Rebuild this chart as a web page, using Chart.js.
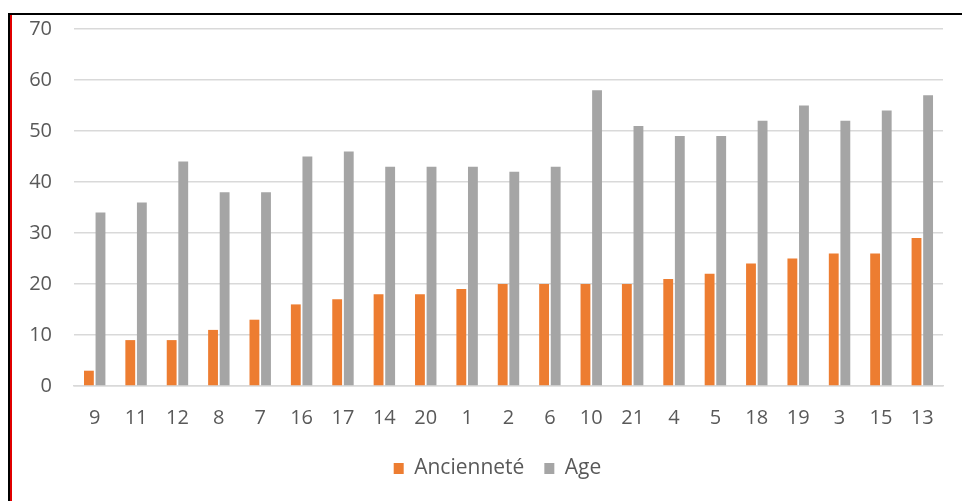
<!DOCTYPE html>
<html>
<head>
<meta charset="utf-8">
<script src="https://cdn.jsdelivr.net/npm/chart.js@4/dist/chart.umd.min.js"></script>
<style>
  html, body { margin: 0; padding: 0; background: #fff; }
  #wrap { position: relative; width: 962px; height: 501px; overflow: hidden; }
  #frame {
    position: absolute; left: 8px; top: 13px; width: 960px; height: 500px;
    border-top: 2px solid #000; border-left: 2px solid #000;
    box-shadow: inset 2px 0 0 #e00000;
  }
  #chart { position: absolute; left: 0; top: 0; }
</style>
</head>
<body>
<div id="wrap">
  <div id="frame"></div>
  <canvas id="chart" width="962" height="501"></canvas>
</div>
<script>
// categories (employee ids) in the order shown
var categories = ['9', '11', '12', '8', '7', '16', '17', '14', '20', '1', '2', '6', '10', '21', '4', '5', '18', '19', '3', '15', '13'];
var anciennete = [3, 9, 9, 11, 13, 16, 17, 18, 18, 19, 20, 20, 20, 20, 21, 22, 24, 25, 26, 26, 29];
var age = [34, 36, 44, 38, 38, 45, 46, 43, 43, 43, 42, 43, 58, 51, 49, 49, 52, 55, 52, 54, 57];
var yTicks = [0, 10, 20, 30, 40, 50, 60, 70];

var txtColor = '#595959';
var font = { family: 'Open Sans', size: 20 };

// nudge the legend a bit to the right, like in the original
var legendShift = {
  id: 'legendShift',
  afterLayout: function (chart) {
    if (chart.legend) {
      chart.legend.left += 14;
      chart.legend.right += 14;
    }
  }
};

var ctx = document.getElementById('chart');
var myChart = new Chart(ctx, {
  type: 'bar',
  data: {
    labels: categories,
    datasets: [{
      label: 'Ancienneté',
      data: anciennete,
      backgroundColor: '#ED7D31',
      categoryPercentage: 0.56,
      barPercentage: 0.85
    }, {
      label: 'Age',
      data: age,
      backgroundColor: '#A5A5A5',
      categoryPercentage: 0.56,
      barPercentage: 0.85
    }]
  },
  plugins: [legendShift],
  options: {
    responsive: false,
    animation: false,
    layout: {
      padding: { left: 24, right: 19, top: 29, bottom: 12 }
    },
    plugins: {
      tooltip: { enabled: false },
      legend: {
        position: 'bottom',
        labels: {
          color: txtColor,
          font: { family: 'Open Sans', size: 21 },
          boxWidth: 10,
          boxHeight: 11,
          padding: 20
        }
      }
    },
    scales: {
      x: {
        grid: { display: false, drawTicks: false },
        border: { color: '#d9d9d9', width: 1.5 },
        ticks: { color: txtColor, font: font, padding: 20, maxRotation: 0 },
        afterFit: function (s) { s.height = 52; }
      },
      y: {
        min: yTicks[0],
        max: yTicks[yTicks.length - 1],
        grid: { color: '#d9d9d9', lineWidth: 1.5, drawTicks: false },
        border: { display: false },
        ticks: { color: txtColor, font: font, padding: 22, stepSize: yTicks[1] - yTicks[0] },
        afterFit: function (s) {
          s.width = 50;
          s.paddingTop = 0;
          s.paddingBottom = 0;
        }
      }
    }
  }
});
</script>
</body>
</html>
